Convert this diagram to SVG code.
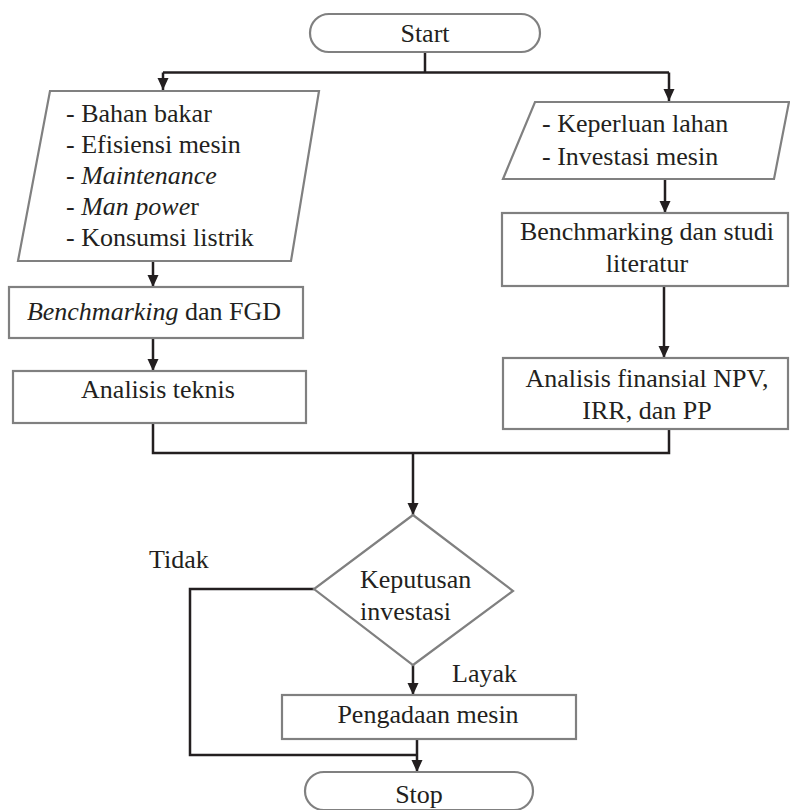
<svg xmlns="http://www.w3.org/2000/svg" width="790" height="810" viewBox="0 0 790 810">
<defs>
<marker id="ah" markerUnits="userSpaceOnUse" markerWidth="12" markerHeight="12" refX="12" refY="5.5" orient="auto">
<path d="M0,0 L12,5.5 L0,11 z" fill="#231f20"/>
</marker>
</defs>
<rect width="790" height="810" fill="#fff"/>
<g id="connectors" fill="none" stroke="#231f20" stroke-width="2.5">
<polyline points="425,52 425,72.5"/>
<polyline points="163,72.5 669,72.5"/>
<polyline points="163,72.5 163,90" marker-end="url(#ah)"/>
<polyline points="669,72.5 669,101" marker-end="url(#ah)"/>
<polyline points="665,179 665,213" marker-end="url(#ah)"/>
<polyline points="664,286 664,358" marker-end="url(#ah)"/>
<polyline points="153,261 153,287" marker-end="url(#ah)"/>
<polyline points="153,338 153,371" marker-end="url(#ah)"/>
<polyline points="153,423 153,453 669,453 669,429"/>
<polyline points="413,453 413,515" marker-end="url(#ah)"/>
<polyline points="413,665 413,695" marker-end="url(#ah)"/>
<polyline points="314,589 190,589 190,755 417,755"/>
<polyline points="417,739 417,772" marker-end="url(#ah)"/>
</g>
<g id="labels">
<text style="font-family:serif" font-family="Times New Roman" font-size="26" fill="#231f20" x="149" y="568">Tidak</text>
<text style="font-family:serif" font-family="Times New Roman" font-size="26" fill="#231f20" x="452" y="682">Layak</text>
</g>

<g id="start">
<rect fill="#fff" stroke="#808080" stroke-width="2.2" x="310" y="14" width="230" height="38" rx="19"/>
<text style="font-family:serif" font-family="Times New Roman" font-size="26" fill="#231f20" text-anchor="middle" x="425" y="42">Start</text>
</g>

<g id="input-left">
<polygon fill="#fff" stroke="#808080" stroke-width="2.2" points="50,91 319,91 291,261 18,261"/>
<text style="font-family:serif" font-family="Times New Roman" font-size="26" fill="#231f20" x="66" y="122">- Bahan bakar</text>
<text style="font-family:serif" font-family="Times New Roman" font-size="26" fill="#231f20" x="66" y="153">- Efisiensi mesin</text>
<text style="font-family:serif" font-family="Times New Roman" font-size="26" fill="#231f20" x="66" y="184">- <tspan font-style="italic">Maintenance</tspan></text>
<text style="font-family:serif" font-family="Times New Roman" font-size="26" fill="#231f20" x="66" y="215">- <tspan font-style="italic">Man powe</tspan>r</text>
<text style="font-family:serif" font-family="Times New Roman" font-size="26" fill="#231f20" x="66" y="246">- Konsumsi listrik</text>
</g>

<g id="input-right">
<polygon fill="#fff" stroke="#808080" stroke-width="2.2" points="535,102 789,102 774,179 503,179"/>
<text style="font-family:serif" font-family="Times New Roman" font-size="26" fill="#231f20" x="542" y="132">- Keperluan lahan</text>
<text style="font-family:serif" font-family="Times New Roman" font-size="26" fill="#231f20" x="542" y="165">- Investasi mesin</text>
</g>

<g id="benchmarking-fgd">
<rect fill="#fff" stroke="#808080" stroke-width="2.2" x="9" y="287" width="294" height="51"/>
<text style="font-family:serif" font-family="Times New Roman" font-size="26" fill="#231f20" text-anchor="middle" x="154" y="320"><tspan font-style="italic">Benchmarking</tspan> dan FGD</text>
</g>

<g id="analisis-teknis">
<rect fill="#fff" stroke="#808080" stroke-width="2.2" x="13" y="371" width="293" height="52"/>
<text style="font-family:serif" font-family="Times New Roman" font-size="26" fill="#231f20" text-anchor="middle" x="158" y="398">Analisis teknis</text>
</g>

<g id="benchmarking-studi">
<rect fill="#fff" stroke="#808080" stroke-width="2.2" x="502" y="213" width="286" height="73"/>
<text style="font-family:serif" font-family="Times New Roman" font-size="26" fill="#231f20" text-anchor="middle" x="647" y="240">Benchmarking dan studi</text>
<text style="font-family:serif" font-family="Times New Roman" font-size="26" fill="#231f20" text-anchor="middle" x="647" y="272">literatur</text>
</g>

<g id="analisis-finansial">
<rect fill="#fff" stroke="#808080" stroke-width="2.2" x="503" y="358" width="285" height="71"/>
<text style="font-family:serif" font-family="Times New Roman" font-size="26" fill="#231f20" text-anchor="middle" x="647" y="387">Analisis finansial NPV,</text>
<text style="font-family:serif" font-family="Times New Roman" font-size="26" fill="#231f20" text-anchor="middle" x="647" y="419">IRR, dan PP</text>
</g>

<g id="keputusan">
<polygon fill="#fff" stroke="#808080" stroke-width="2.2" points="413,515 513,591 413,665 314,589"/>
<text style="font-family:serif" font-family="Times New Roman" font-size="26" fill="#231f20" x="360" y="588">Keputusan</text>
<text style="font-family:serif" font-family="Times New Roman" font-size="26" fill="#231f20" x="360" y="620">investasi</text>
</g>

<g id="pengadaan">
<rect fill="#fff" stroke="#808080" stroke-width="2.2" x="282" y="695" width="294" height="44"/>
<text style="font-family:serif" font-family="Times New Roman" font-size="26" fill="#231f20" text-anchor="middle" x="428" y="723">Pengadaan mesin</text>
</g>

<g id="stop">
<rect fill="#fff" stroke="#808080" stroke-width="2.2" x="305" y="772" width="228" height="38" rx="19"/>
<text style="font-family:serif" font-family="Times New Roman" font-size="26" fill="#231f20" text-anchor="middle" x="419" y="803">Stop</text>
</g>
</svg>
